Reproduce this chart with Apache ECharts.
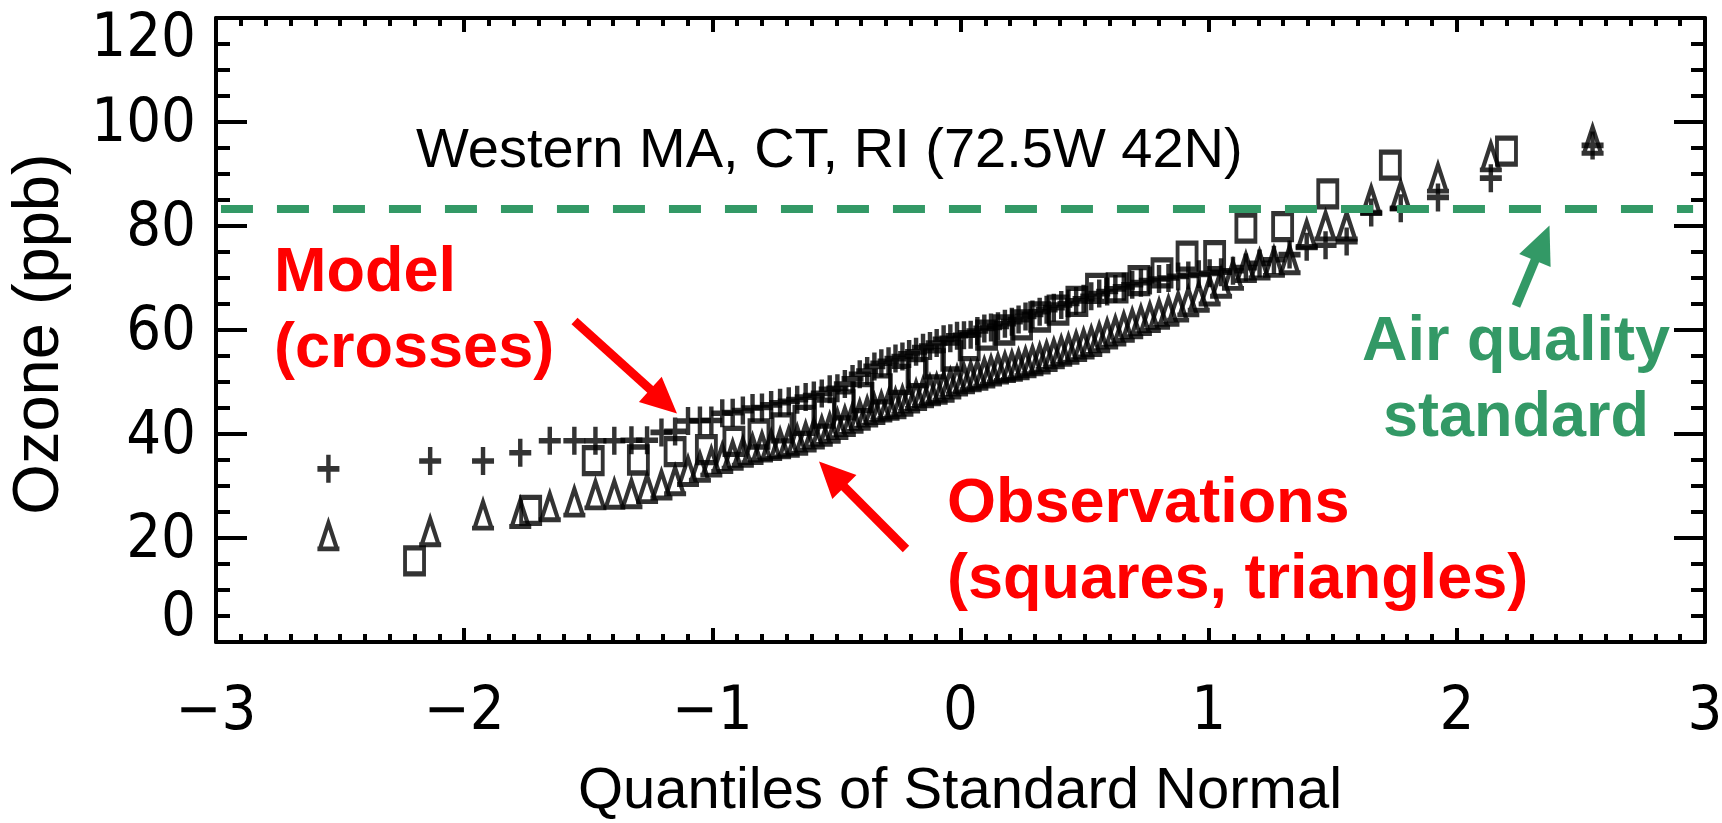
<!DOCTYPE html>
<html>
<head>
<meta charset="utf-8">
<script src="https://cdn.jsdelivr.net/npm/echarts@6.0.0/dist/echarts.min.js"></script>
<style>
html,body{margin:0;padding:0;background:#ffffff;}
#chart{width:1722px;height:823px;}
</style>
</head>
<body>
<div id="chart"></div>
<script>
// ---------------- data ----------------
// Quantiles of the standard normal (x positions) for the 92 daily values (model & triangle obs)
const quantiles92 = [
  -2.547,-2.137,-1.924,-1.774,-1.655,-1.556,-1.471,-1.395,-1.326,-1.263,
  -1.205,-1.150,-1.098,-1.050,-1.004,-0.960,-0.918,-0.877,-0.838,-0.800,
  -0.763,-0.727,-0.692,-0.658,-0.624,-0.591,-0.559,-0.527,-0.496,-0.466,
  -0.435,-0.406,-0.376,-0.347,-0.319,-0.290,-0.262,-0.234,-0.207,-0.179,
  -0.151,-0.123,-0.096,-0.068,-0.041,-0.014, 0.014, 0.041, 0.068, 0.096,
   0.123, 0.151, 0.179, 0.207, 0.234, 0.262, 0.290, 0.319, 0.347, 0.376,
   0.406, 0.435, 0.466, 0.496, 0.527, 0.559, 0.591, 0.624, 0.658, 0.692,
   0.727, 0.763, 0.800, 0.838, 0.877, 0.918, 0.960, 1.004, 1.050, 1.098,
   1.150, 1.205, 1.263, 1.326, 1.395, 1.471, 1.556, 1.655, 1.774, 1.924,
   2.137, 2.547
];
// Quantiles for the 36 square observations
const quantiles36 = [
  -2.200,-1.732,-1.480,-1.298,-1.150,-1.024,-0.913,-0.812,-0.719,-0.631,
  -0.548,-0.469,-0.393,-0.319,-0.246,-0.175,-0.105,-0.035, 0.035, 0.105,
   0.175, 0.246, 0.319, 0.393, 0.469, 0.548, 0.631, 0.719, 0.812, 0.913,
   1.024, 1.150, 1.298, 1.480, 1.732, 2.200
];
// Model ozone (crosses), ppb
const modelCrosses = [
  33.3,34.8,34.8,36.4,38.7,38.7,38.7,38.7,38.8,38.8,
  40.3,40.5,42.5,42.6,42.6,44.0,44.1,44.5,45.0,45.1,
  45.6,46.0,46.3,46.6,47.1,47.4,47.8,48.6,48.8,49.6,
  50.6,51.5,52.1,53.0,53.6,54.0,54.5,54.9,55.4,55.8,
  56.6,56.9,57.5,58.2,58.4,58.9,59.0,59.1,59.8,60.3,
  60.5,60.7,61.2,61.6,62.0,62.6,63.0,63.5,63.9,64.3,
  64.8,65.1,65.6,66.0,66.5,67.0,67.4,67.9,68.3,68.7,
  69.1,69.5,69.8,70.0,70.3,70.5,70.7,70.9,71.1,71.4,
  72.0,72.8,73.5,74.5,76.0,76.3,77.0,82.6,83.4,85.5,
  89.2,95.5
];
// Observed ozone (triangles), ppb
const obsTriangles = [
  20.4,21.2,24.4,24.7,26.0,26.9,28.3,28.4,28.5,29.5,
  30.2,31.0,32.8,33.6,34.6,35.3,35.9,36.5,37.0,37.5,
  37.8,38.1,38.4,38.8,39.4,40.0,40.5,41.1,41.8,42.4,
  43.0,43.6,44.2,44.7,45.2,45.5,45.8,46.3,46.9,47.4,
  47.9,48.3,48.6,49.0,49.6,50.2,50.6,51.0,51.3,51.7,
  52.1,52.5,52.8,53.0,53.3,53.7,54.1,54.4,54.9,55.4,
  55.9,56.3,56.8,57.3,57.8,58.5,59.2,59.8,60.5,61.2,
  61.8,62.4,63.0,63.6,64.4,65.4,66.3,67.5,69.0,70.5,
  72.0,72.5,73.0,73.5,78.3,80.0,80.0,84.9,85.8,89.2,
  93.3,96.5
];
// Observed ozone (squares), ppb
const obsSquares = [
  15.6,25.3,34.9,35.0,36.6,37.0,38.6,40.0,41.2,42.6,
  44.0,45.6,47.0,48.7,50.5,51.8,53.5,55.0,57.0,59.0,
  60.0,61.0,62.5,63.8,65.5,68.0,68.1,69.5,71.0,74.2,
  74.3,79.6,79.9,86.2,91.7,94.4
];
const airQualityStandard = 83.3;
const standardLineSpan = [-2.98, 2.952];
const xTickLabels = ['\u22123','\u22122','\u22121','0','1','2','3'];
const yTickLabels = ['0','20','40','60','80','100','120'];

// ---------------- styling ----------------
const HERSHEY = "'Liberation Sans Narrow','DejaVu Sans Condensed','Liberation Sans',sans-serif";
const PLAIN = "'Liberation Sans',Arial,sans-serif";
const GREEN = '#339966';
const RED = '#ff0000';

const CROSS = 'path://M11,0L11,28M0,14L22,14';
const TRI = 'path://M2.5,25L11,0L19.5,25M0,25L22,25';

function pairs(xs, ys) { return ys.map((y, i) => [xs[i], y]); }

function xAxisCfg(pos, showLabel) {
  return {
    type: 'value', position: pos, min: -3, max: 3, interval: 1,
    axisLine: { show: true, onZero: false, lineStyle: { color: '#000', width: 4 } },
    axisTick: { show: true, inside: true, length: 14, lineStyle: { color: '#000', width: 4 } },
    minorTick: { show: true, splitNumber: 10, length: 8, lineStyle: { color: '#000', width: 4 } },
    splitLine: { show: false }, minorSplitLine: { show: false },
    axisLabel: {
      show: showLabel, margin: 41, color: '#000', fontFamily: HERSHEY, fontSize: 61,
      showMinLabel: true, showMaxLabel: true,
      formatter: v => xTickLabels[Math.round(v) + 3]
    }
  };
}
function yAxisCfg(pos, showLabel) {
  const rs = { fontFamily: HERSHEY, fontSize: 61, color: '#000' };
  return {
    type: 'value', position: pos, min: 0, max: 120, interval: 20,
    axisLine: { show: true, onZero: false, lineStyle: { color: '#000', width: 4 } },
    axisTick: { show: true, inside: true, length: 31, lineStyle: { color: '#000', width: 4 } },
    minorTick: { show: true, splitNumber: 4, length: 14, lineStyle: { color: '#000', width: 4 } },
    splitLine: { show: false }, minorSplitLine: { show: false },
    axisLabel: {
      show: showLabel, margin: 20, color: '#000', fontFamily: HERSHEY, fontSize: 61,
      showMinLabel: true, showMaxLabel: true,
      formatter: v => {
        const t = yTickLabels[Math.round(v / 20)];
        if (v === 0) return '{lo|' + t + '}';
        if (v === 120) return '{hi|' + t + '}';
        return '{n|' + t + '}';
      },
      rich: {
        lo: Object.assign({ padding: [0, 0, 45, 0] }, rs),
        hi: Object.assign({ padding: [45, 0, 0, 0] }, rs),
        n: Object.assign({ padding: [7, 0, 0, 0] }, rs)
      }
    }
  };
}

function arrow(from, to, color, w, headLen, halfW) {
  const dx = to[0] - from[0], dy = to[1] - from[1];
  const L = Math.sqrt(dx * dx + dy * dy);
  const ux = dx / L, uy = dy / L, px = -uy, py = ux;
  const bx = to[0] - ux * headLen, by = to[1] - uy * headLen;
  return [
    { type: 'line', silent: true, z: 50,
      shape: { x1: from[0], y1: from[1], x2: bx + ux * 2, y2: by + uy * 2 },
      style: { stroke: color, lineWidth: w, lineCap: 'butt' } },
    { type: 'polygon', silent: true, z: 50,
      shape: { points: [[to[0], to[1]], [bx + px * halfW, by + py * halfW], [bx - px * halfW, by - py * halfW]] },
      style: { fill: color } }
  ];
}

function txt(x, y, text, font, fill, align, valign, lineHeight, rotation) {
  return {
    type: 'text', silent: true, z: 60, x: x, y: y, rotation: rotation || 0,
    style: {
      text: text, font: font, fill: fill,
      align: align, verticalAlign: valign,
      textAlign: align, textVerticalAlign: valign,
      lineHeight: lineHeight
    }
  };
}

const graphics = [].concat(
  [txt(416, 152, 'Western MA, CT, RI (72.5W 42N)', '56px ' + PLAIN, '#000', 'left', 'middle', 60)],
  [txt(960, 792, 'Quantiles of Standard Normal', '58px ' + PLAIN, '#000', 'center', 'middle', 60)],
  [txt(40, 334, 'Ozone (ppb)', '65px ' + PLAIN, '#000', 'center', 'middle', 68, Math.PI / 2)],
  [txt(274, 236, 'Model\n(crosses)', 'bold 63px ' + PLAIN, RED, 'left', 'top', 76)],
  [txt(947, 467, 'Observations\n(squares, triangles)', 'bold 63px ' + PLAIN, RED, 'left', 'top', 76)],
  [txt(1516, 305, 'Air quality\nstandard', 'bold 63px ' + PLAIN, GREEN, 'center', 'top', 76)],
  arrow([574.5, 321], [677, 413.5], RED, 9, 36, 17),
  arrow([906, 549], [819, 461.5], RED, 9, 36, 17),
  arrow([1516, 306], [1549.5, 225.5], GREEN, 9, 38, 17)
);

const markerStyle = { color: 'rgba(0,0,0,0)', borderColor: '#000' };

const option = {
  animation: false,
  backgroundColor: '#fff',
  grid: { left: 216, top: 18, width: 1489, height: 624, containLabel: false, outerBoundsMode: 'none' },
  xAxis: [xAxisCfg('bottom', true), xAxisCfg('top', false)],
  yAxis: [yAxisCfg('left', true), yAxisCfg('right', false)],
  series: [
    {
      name: 'standard', type: 'scatter', data: [], z: 1, silent: true,
      markLine: {
        silent: true, symbol: ['none', 'none'], animation: false,
        label: { show: false },
        lineStyle: { color: GREEN, width: 8, type: [32, 24], cap: 'butt' },
        emphasis: { disabled: true },
        data: [[
          { coord: [standardLineSpan[0], airQualityStandard] },
          { coord: [standardLineSpan[1], airQualityStandard] }
        ]]
      }
    },
    {
      name: 'Model', type: 'scatter', z: 3, silent: true,
      symbol: CROSS, symbolSize: [22, 28],
      itemStyle: Object.assign({ borderWidth: 5 }, markerStyle),
      data: pairs(quantiles92, modelCrosses)
    },
    {
      name: 'Obs triangles', type: 'scatter', z: 3, silent: true,
      symbol: TRI, symbolSize: [22, 26],
      itemStyle: Object.assign({ borderWidth: 4.5 }, markerStyle),
      data: pairs(quantiles92, obsTriangles)
    },
    {
      name: 'Obs squares', type: 'scatter', z: 3, silent: true,
      symbol: 'rect', symbolSize: [19, 26],
      itemStyle: Object.assign({ borderWidth: 4.5 }, markerStyle),
      data: pairs(quantiles36, obsSquares)
    }
  ],
  graphic: graphics
};

const chart = echarts.init(document.getElementById('chart'), null, { renderer: 'canvas' });
chart.setOption(option);
</script>
</body>
</html>
